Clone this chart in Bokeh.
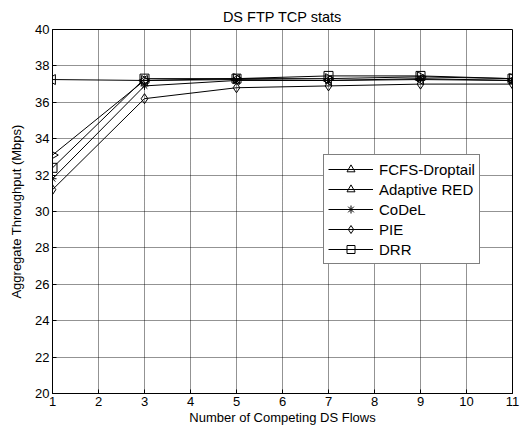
import math
from bokeh.plotting import figure
from bokeh.models import Legend, LegendItem, Label, FixedTicker
from bokeh.embed import file_html
from bokeh.resources import INLINE

flows = [1, 3, 5, 7, 9, 11]
fcfs = [37.25, 37.2, 37.25, 37.2, 37.25, 37.2]
ared = [33.1, 37.2, 37.3, 37.3, 37.4, 37.3]
codel = [31.8, 36.9, 37.2, 37.2, 37.3, 37.2]
pie = [31.2, 36.2, 36.8, 36.9, 37.0, 37.0]
drr = [32.4, 37.3, 37.3, 37.45, 37.45, 37.3]
names = ["FCFS-Droptail", "Adaptive RED", "CoDeL", "PIE", "DRR"]
x_ticks = list(range(1, 12))
y_ticks = list(range(20, 41, 2))

FONT = "Liberation Sans"

p = figure(width=522, height=432, x_range=(1, 11), y_range=(20, 40),
           output_backend="svg", toolbar_location=None,
           min_border_left=52, min_border_right=10, min_border_top=29,
           min_border_bottom=39, title="DS FTP TCP stats")
p.title.align = "center"
p.title.text_font = FONT
p.title.text_font_size = "14.5px"
p.title.text_font_style = "normal"
p.title.text_color = "black"
p.title.standoff = 10

p.outline_line_color = "black"
p.outline_line_width = 1
p.background_fill_color = "white"
p.border_fill_color = "white"

for ax in (p.xaxis[0], p.yaxis[0]):
    ax.major_tick_in = 4
    ax.major_tick_out = 0
    ax.minor_tick_line_color = None
    ax.axis_line_color = "black"
    ax.major_tick_line_color = "black"
    ax.major_label_text_font = FONT
    ax.major_label_text_font_size = "13px"
    ax.major_label_text_color = "black"
    ax.axis_label_text_font = FONT
    ax.axis_label_text_font_size = "13px"
    ax.axis_label_text_font_style = "normal"
    ax.axis_label_text_color = "black"

p.xaxis[0].ticker = FixedTicker(ticks=x_ticks)
p.yaxis[0].ticker = FixedTicker(ticks=y_ticks)
p.xaxis[0].axis_label = "Number of Competing DS Flows"
p.yaxis[0].axis_label = "Aggregate Throughput (Mbps)"
p.xaxis[0].major_label_standoff = 3
p.xaxis[0].axis_label_standoff = 1
p.yaxis[0].major_label_standoff = 3
p.yaxis[0].axis_label_standoff = 8

p.xgrid.ticker = FixedTicker(ticks=x_ticks)
p.ygrid.ticker = FixedTicker(ticks=y_ticks)
for g in (p.xgrid[0], p.ygrid[0]):
    g.grid_line_color = "black"
    g.grid_line_dash = "1 1"
    g.grid_line_width = 1
    g.grid_line_alpha = 0.85

series = [fcfs, ared, codel, pie, drr]
markers = ["triangle", "triangle", "asterisk", "diamond", "square"]
angles = [math.pi / 2, -math.pi / 2, 0, 0, 0]
sizes = [10, 10, 8, 10, 9]
items = []
for name, ys, mk, ang, sz in zip(names, series, markers, angles, sizes):
    ln = p.line(flows, ys, line_color="black", line_width=1)
    sc = p.scatter(flows, ys, marker=mk, angle=ang, size=sz,
                   line_color="black", fill_alpha=0, line_width=1)
    items.append(LegendItem(label=name, renderers=[ln, sc]))

legend = Legend(items=items, location=(271, 129))
legend.label_text_font = FONT
legend.label_text_font_size = "15px"
legend.label_text_color = "black"
legend.glyph_width = 45
legend.glyph_height = 20
legend.label_height = 20
legend.label_width = 96
legend.spacing = 0
legend.padding = 4
legend.margin = 0
legend.label_standoff = 6
legend.border_line_color = "black"
legend.border_line_width = 1.5
legend.background_fill_alpha = 1
p.add_layout(legend, "center")

cut = Label(x=11.27, y=30, text="VOIP R-Value", angle=math.pi / 2,
            text_align="center", text_baseline="alphabetic",
            text_font=FONT, text_font_size="13px", text_color="black")
p.add_layout(cut)

open("out.html", "w").write(file_html(p, INLINE))
